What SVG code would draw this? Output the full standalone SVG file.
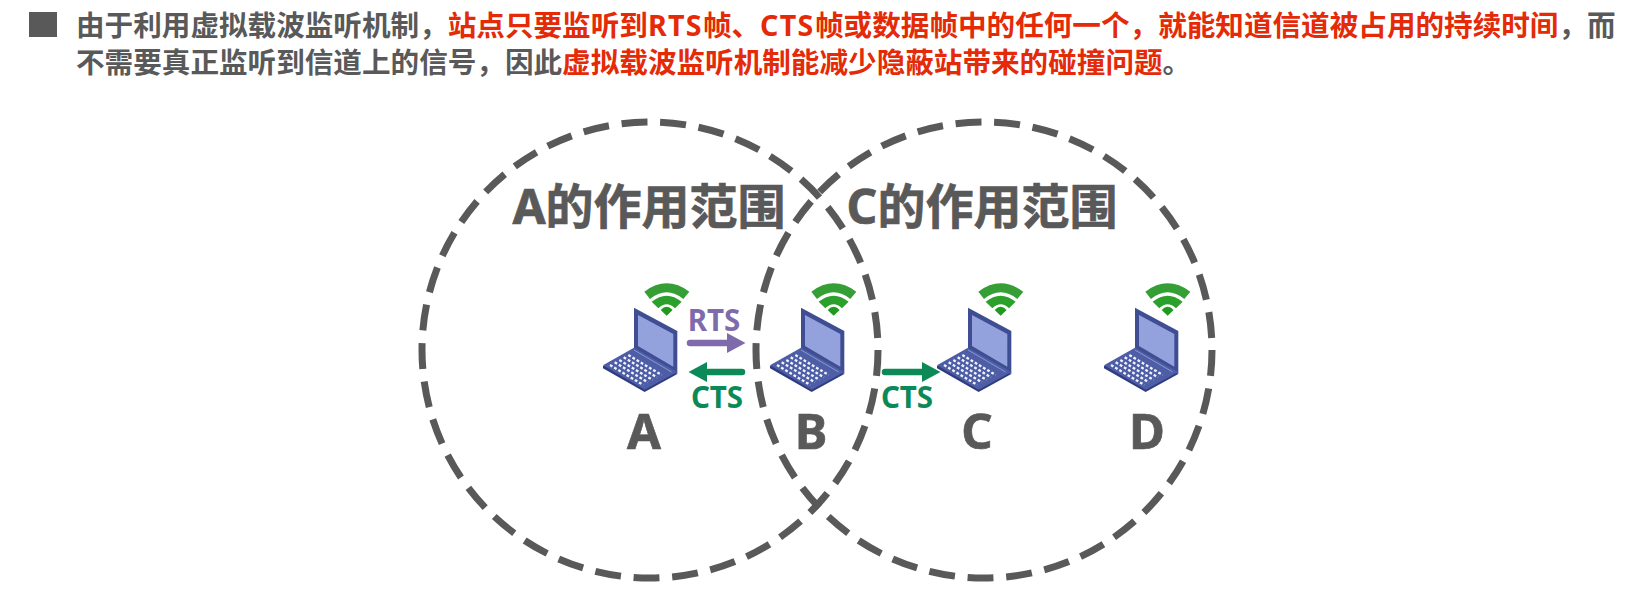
<svg xmlns="http://www.w3.org/2000/svg" width="1649" height="593" viewBox="0 0 1649 593">
<style>
text{font-family:"Noto Sans","Noto Sans CJK SC",sans-serif;font-weight:700}
.t{font-size:28.6px;fill:#595959}
.r{fill:#e42a07}
.la{letter-spacing:1.3px}
.c{fill:none;stroke:#595959;stroke-width:7;stroke-dasharray:26 12.72}
.l{font-size:48px;fill:#595959;stroke:#595959;stroke-width:.7;text-anchor:middle}
.n{font-size:49px;fill:#595959;stroke:#595959;stroke-width:.7;text-anchor:middle}
.p{font-size:29.5px;fill:#7f6bab;text-anchor:middle}
.g{font-size:29.5px;fill:#0b8a58;text-anchor:middle}
.k{fill:none;stroke:#f2f4fb;stroke-width:7;stroke-dasharray:8.5 6}
</style>
<defs>
<marker id="hp" markerUnits="userSpaceOnUse" markerWidth="20" markerHeight="21" refX="0" refY="10.5" orient="auto"><path d="M0 .5L18.5 10.5L0 20.5Z" fill="#7f6bab"/></marker>
<marker id="hg" markerUnits="userSpaceOnUse" markerWidth="20" markerHeight="21" refX="0" refY="10.5" orient="auto"><path d="M0 .5L18.5 10.5L0 20.5Z" fill="#0b8a58"/></marker>
<g id="laptop">
<path d="M222 173L352 243V372L222 296Z" fill="#3f4d92"/>
<path d="M234 195L340 252V350L234 288Z" fill="#93a2dc"/>
<path d="M129 348L222 296L352 372L254 426L129 355Z" fill="#2f3c80"/>
<path d="M129 346L222 293L352 366L254 419Z" fill="#4d5da6"/>
<path d="M222 300L335 366" stroke="#aab5e3" stroke-width="2" fill="none"/>
<path class="k" d="M205 315L305 375M191 322L291 382M178 330L278 390M164 337L264 397M150 345L250 405"/>
<path d="M253 125Q320 75 388 125L370 147Q320 107 270 147Z" fill="#359f35"/>
<path d="M275 155Q320 119 365 155L345 175Q320 151 295 175Z" fill="#2ba02b"/>
<path d="M302 180Q320 160 338 180L320 197Z" fill="#1f9a1f"/>
</g>
</defs>
<rect x="29" y="12" width="28" height="25" fill="#595959"/>
<text class="t" x="76" y="36" id="line1">由于利用虚拟载波监听机制，<tspan class="r">站点只要监听到<tspan class="la" x="648">RTS</tspan><tspan x="703">帧、</tspan><tspan class="la" x="760">CTS</tspan><tspan x="815">帧或数据帧中的任何一个，就能知道信道被占用的持续时间</tspan></tspan>，而</text>
<text class="t" x="76" y="73" id="line2">不需要真正监听到信道上的信号，因此<tspan class="r">虚拟载波监听机制能减少隐蔽站带来的碰撞问题</tspan>。</text>
<g id="range-a"><circle class="c" cx="650" cy="350" r="228"/><text class="l" x="649" y="224">A的作用范围</text></g>
<g id="range-c"><circle class="c" cx="984" cy="350" r="228"/><text class="l" x="982" y="224">C的作用范围</text></g>
<g id="node-a"><use href="#laptop" transform="translate(560 250) scale(.3333)"/><text class="n" x="644" y="449">A</text></g>
<g id="node-b"><use href="#laptop" transform="translate(727 250) scale(.3333)"/><text class="n" x="811" y="449">B</text></g>
<g id="node-c"><use href="#laptop" transform="translate(894 250) scale(.3333)"/><text class="n" x="977" y="449">C</text></g>
<g id="node-d"><use href="#laptop" transform="translate(1061 250) scale(.3333)"/><text class="n" x="1147" y="449">D</text></g>
<g id="connectors">
<path d="M690 343H727" stroke="#7f6bab" stroke-width="6.5" stroke-linecap="round" marker-end="url(#hp)"/>
<path d="M742 372H707" stroke="#0b8a58" stroke-width="6.5" stroke-linecap="round" marker-end="url(#hg)"/>
<path d="M885 372H922" stroke="#0b8a58" stroke-width="6.5" stroke-linecap="round" marker-end="url(#hg)"/>
</g>
<text class="p" x="714" y="331">RTS</text>
<text class="g" x="717" y="408">CTS</text>
<text class="g" x="907" y="408">CTS</text>
</svg>
